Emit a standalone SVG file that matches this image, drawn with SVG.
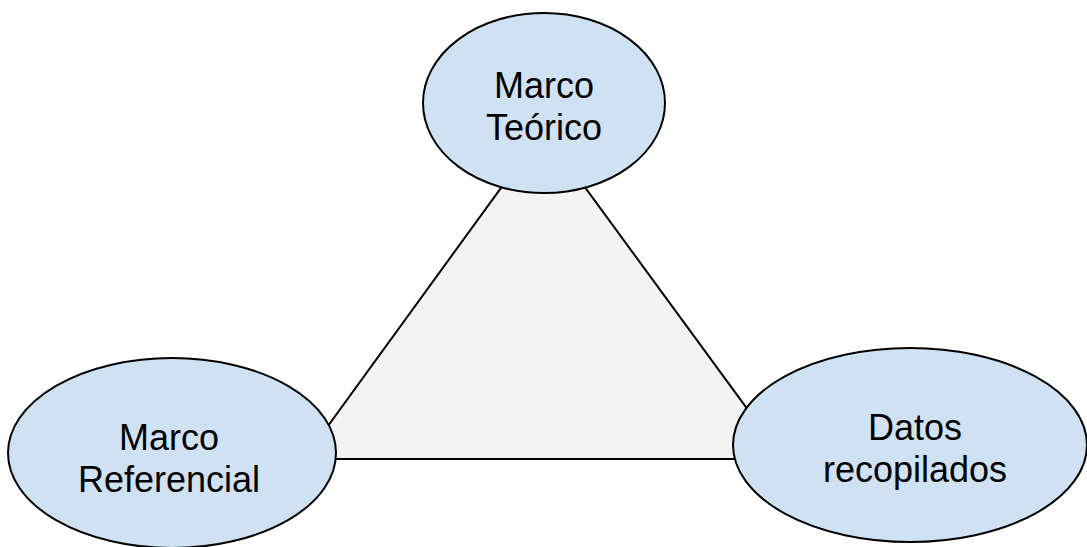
<svg xmlns="http://www.w3.org/2000/svg" width="1087" height="547" viewBox="0 0 1087 547">
<style>
.node{fill:#cfe2f3;stroke:#000;stroke-width:2}
.lbl{font-family:"Liberation Sans",Arial,sans-serif;font-size:36px;fill:#000;text-anchor:middle}
.edge{fill:#f3f3f3;stroke:#000;stroke-width:2}
</style>
<rect width="1087" height="547" fill="#fff"/>
<g id="connectors">
<polygon class="edge" points="543,130 304,459 784,459"/>
</g>
<g id="marco-teorico">
<ellipse class="node" cx="544" cy="103" rx="121" ry="90"/>
<text class="lbl" x="544" y="98">Marco</text>
<text class="lbl" x="544" y="140">Teórico</text>
</g>
<g id="marco-referencial">
<ellipse class="node" cx="172" cy="453" rx="164" ry="95"/>
<text class="lbl" x="169" y="450">Marco</text>
<text class="lbl" x="169" y="492">Referencial</text>
</g>
<g id="datos-recopilados">
<ellipse class="node" cx="910" cy="445" rx="177" ry="97"/>
<text class="lbl" x="915" y="440">Datos</text>
<text class="lbl" x="915" y="482">recopilados</text>
</g>
</svg>
